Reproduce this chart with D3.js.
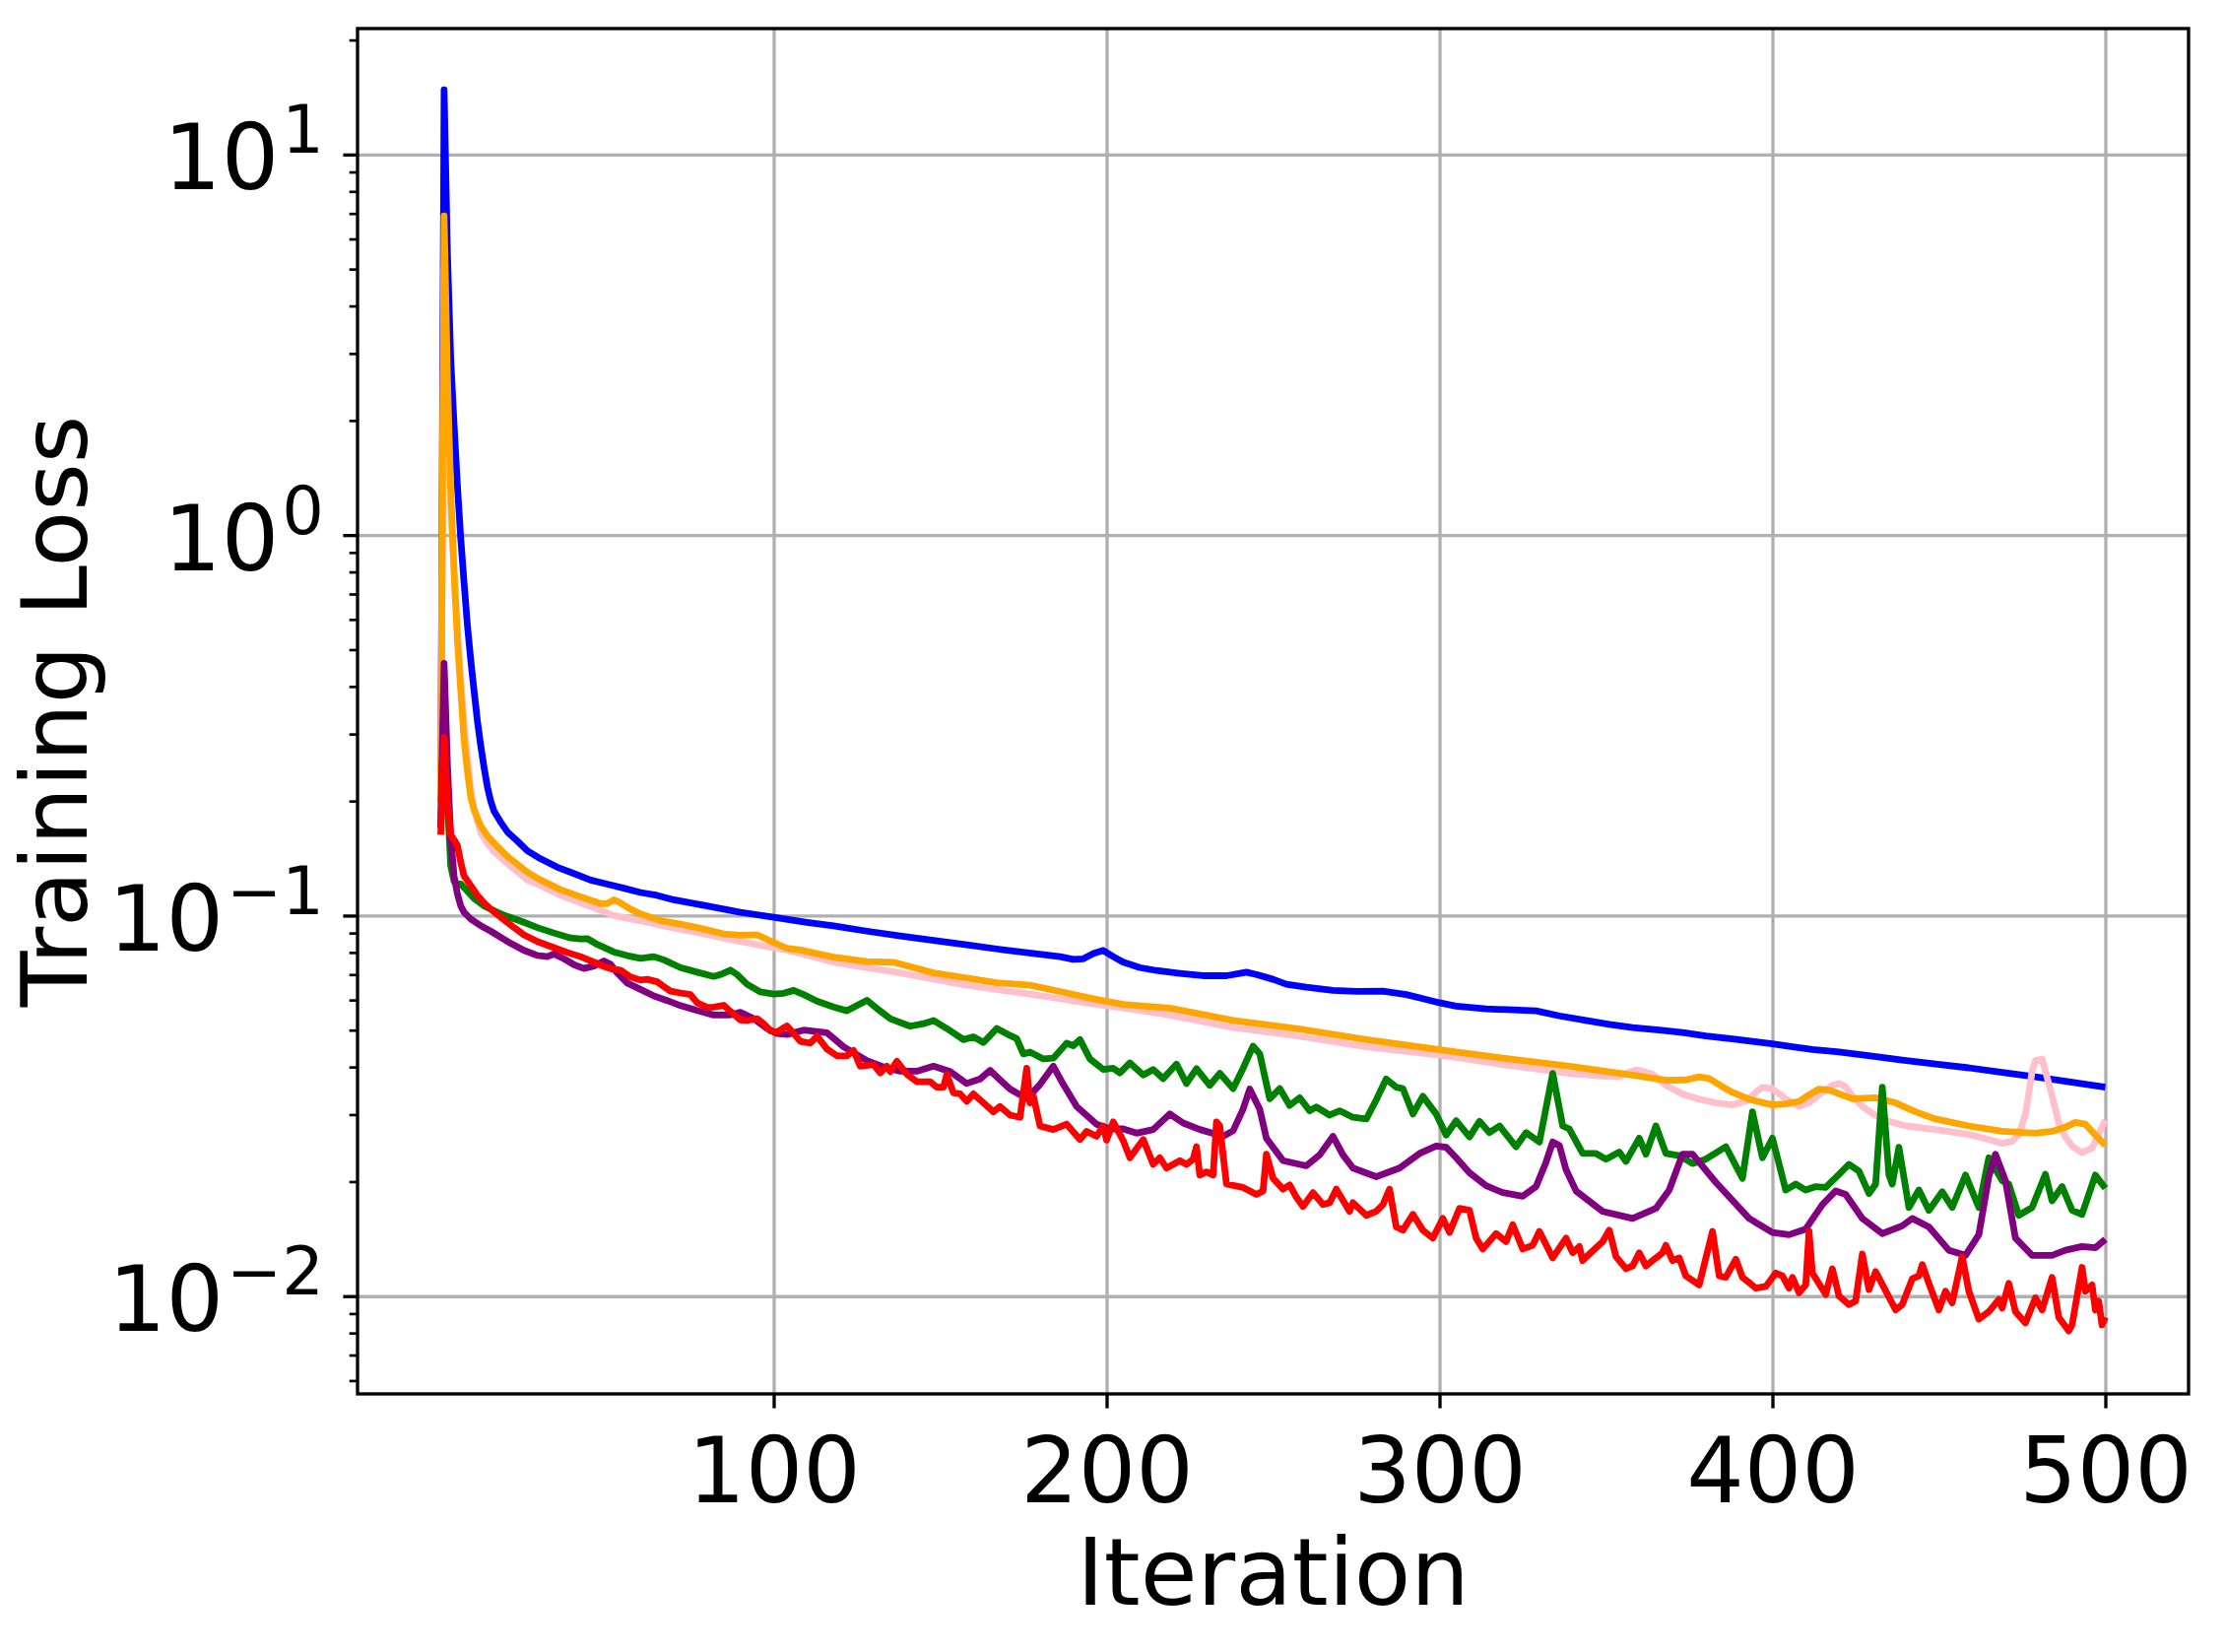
<!DOCTYPE html>
<html><head><meta charset="utf-8">
<script src="https://cdn.jsdelivr.net/npm/d3@7"></script>
<style>html,body{margin:0;padding:0;background:#fff;} text{font-family:"DejaVu Sans",sans-serif;}</style>
</head><body>
<svg id="chart" width="2260" height="1677"></svg>
<script>
// ---- data: [iteration, training loss] ----
const blueSeries = [[0,0.2],[1,14.8],[2,5.5],[3,2.9],[4,1.95],[5,1.35],[6,0.98],[7,0.75],[8,0.58],[9,0.47],[10,0.39],[11,0.325],[12,0.28],[13,0.245],[14,0.218],[15,0.2],[16,0.188],[18,0.176],[20,0.166],[23,0.157],[26,0.148],[30,0.141],[35,0.134],[40,0.129],[45,0.124],[50,0.121],[55,0.118],[60,0.115],[65,0.113],[70,0.11],[80,0.106],[90,0.102],[100,0.099],[110,0.096],[118,0.094],[128,0.091],[138,0.0884],[148,0.086],[158,0.0838],[168,0.0815],[178,0.0795],[186,0.078],[190,0.0767],[193,0.077],[196,0.0795],[199,0.081],[202,0.078],[205,0.0754],[210,0.073],[215,0.0717],[222,0.0705],[229,0.0695],[236,0.0695],[240,0.0705],[242,0.071],[245,0.07],[250,0.068],[254,0.066],[260,0.0648],[268,0.0636],[275,0.0632],[283,0.0633],[290,0.062],[295,0.0605],[300,0.059],[305,0.0578],[314,0.0569],[322,0.0565],[329,0.0562],[336,0.0545],[344,0.053],[351,0.0518],[358,0.0508],[366,0.05],[373,0.0493],[380,0.0483],[388,0.0474],[394,0.0467],[400,0.046],[406,0.0452],[412,0.0445],[420,0.0438],[430,0.0427],[439,0.0417],[449,0.0407],[459,0.0398],[469,0.0387],[479,0.0377],[490,0.0365],[500,0.0354]];
const pinkSeries = [[0,0.2],[1,5.0],[2,2.2],[3,1.2],[4,0.8],[5,0.56],[6,0.42],[7,0.32],[8,0.26],[9,0.215],[10,0.19],[12,0.165],[14,0.155],[16,0.147],[20,0.137],[26,0.124],[30,0.12],[36,0.113],[42,0.108],[47,0.104],[52,0.1],[57,0.098],[62,0.096],[67,0.094],[72,0.092],[77,0.0903],[87,0.0866],[96,0.0835],[104,0.0812],[118,0.0754],[138,0.0707],[158,0.0656],[177,0.0622],[197,0.0584],[205,0.0572],[219,0.0548],[238,0.0508],[258,0.0482],[278,0.0452],[297,0.0433],[305,0.0424],[319,0.0406],[339,0.0385],[350,0.0378],[354,0.0377],[357,0.0388],[359,0.0393],[361,0.039],[364,0.0383],[368,0.0358],[373,0.034],[378,0.0329],[383,0.0322],[388,0.0318],[392,0.0325],[395,0.0343],[397,0.0354],[400,0.0351],[404,0.033],[408,0.0315],[411,0.0322],[415,0.0343],[418,0.0358],[420,0.0362],[422,0.0355],[424,0.0336],[427,0.0315],[430,0.0302],[435,0.0288],[440,0.028],[449,0.0274],[459,0.0266],[465,0.0258],[469,0.0252],[472,0.0255],[474,0.0266],[476,0.03],[478,0.039],[479,0.0416],[481,0.042],[482,0.039],[484,0.0336],[486,0.0285],[488,0.0262],[490,0.0248],[493,0.0238],[496,0.0245],[498,0.0266],[500,0.029]];
const orangeSeries = [[0,0.2],[1,6.9],[2,2.6],[3,1.3],[4,0.8],[5,0.53],[6,0.39],[7,0.29],[8,0.24],[9,0.205],[10,0.19],[12,0.172],[14,0.162],[16,0.155],[20,0.143],[26,0.13],[30,0.124],[36,0.117],[42,0.112],[48,0.1075],[50,0.1075],[52,0.11],[54,0.108],[57,0.104],[60,0.101],[66,0.097],[72,0.095],[77,0.093],[85,0.0895],[90,0.0888],[95,0.089],[98,0.0866],[104,0.082],[108,0.0812],[118,0.0778],[128,0.0757],[136,0.0754],[148,0.0707],[158,0.0685],[167,0.0666],[177,0.0656],[187,0.0629],[197,0.0602],[205,0.0584],[219,0.0571],[238,0.053],[258,0.0503],[278,0.0472],[297,0.0448],[305,0.0438],[319,0.0422],[339,0.0402],[358,0.0381],[368,0.0369],[374,0.037],[378,0.0377],[381,0.0373],[385,0.0355],[388,0.0343],[393,0.0329],[400,0.0318],[404,0.032],[408,0.0325],[411,0.0338],[414,0.035],[417,0.0348],[420,0.034],[424,0.033],[431,0.0332],[437,0.0322],[443,0.0305],[449,0.0292],[459,0.028],[469,0.0271],[479,0.0268],[484,0.0271],[488,0.0278],[491,0.0286],[494,0.0283],[497,0.0265],[500,0.0249]];
const greenSeries = [[0,0.17],[1,0.375],[2,0.2],[3,0.135],[4,0.123],[5,0.121],[6,0.121],[8,0.116],[10,0.111],[13,0.106],[17,0.102],[20,0.0995],[25,0.096],[29,0.093],[34,0.09],[39,0.0873],[42,0.0868],[44,0.087],[47,0.084],[52,0.0802],[56,0.0785],[60,0.0772],[64,0.078],[67,0.0765],[72,0.073],[77,0.071],[82,0.0692],[84,0.07],[87,0.0719],[89,0.07],[92,0.066],[96,0.063],[100,0.0622],[103,0.0625],[106,0.0636],[109,0.062],[113,0.0596],[118,0.0575],[122,0.0562],[125,0.058],[128,0.0599],[131,0.057],[135,0.0536],[141,0.0512],[145,0.052],[148,0.053],[152,0.0505],[157,0.0472],[160,0.048],[163,0.0464],[167,0.0505],[171,0.0484],[173,0.0475],[175,0.0433],[177,0.0438],[181,0.042],[184,0.0422],[188,0.0462],[190,0.0455],[192,0.0472],[195,0.042],[199,0.0394],[202,0.0397],[204,0.0386],[207,0.041],[211,0.0381],[214,0.0394],[217,0.0373],[221,0.0407],[224,0.0362],[227,0.0396],[231,0.0358],[234,0.0385],[238,0.0351],[241,0.0397],[244,0.0454],[246,0.0433],[249,0.033],[252,0.0351],[255,0.0317],[258,0.0332],[261,0.0307],[263,0.0314],[267,0.0299],[270,0.0307],[274,0.0295],[278,0.0292],[281,0.0328],[284,0.0372],[287,0.0354],[289,0.0351],[292,0.0301],[295,0.0335],[299,0.0301],[302,0.0265],[305,0.0289],[309,0.0262],[312,0.0288],[315,0.0269],[318,0.028],[323,0.0247],[326,0.0269],[330,0.0254],[334,0.0385],[337,0.028],[339,0.0275],[343,0.0237],[347,0.0237],[350,0.0229],[354,0.0239],[356,0.0226],[360,0.026],[362,0.0236],[365,0.028],[368,0.0237],[372,0.0234],[376,0.0223],[380,0.0229],[386,0.0247],[391,0.0204],[394,0.0305],[397,0.0231],[400,0.026],[404,0.019],[407,0.0197],[410,0.019],[413,0.0194],[416,0.0193],[420,0.0209],[423,0.0222],[426,0.0213],[429,0.0186],[431,0.0197],[433,0.0354],[435,0.0208],[436,0.0197],[438,0.0246],[441,0.0171],[444,0.019],[447,0.0168],[451,0.0188],[454,0.0171],[458,0.0208],[462,0.0171],[465,0.0231],[469,0.0201],[471,0.0197],[474,0.0163],[478,0.0171],[482,0.0209],[484,0.0178],[487,0.0194],[490,0.0168],[493,0.0164],[497,0.0208],[500,0.0192]];
const purpleSeries = [[0,0.17],[1,0.46],[2,0.25],[3,0.16],[4,0.127],[5,0.114],[6,0.106],[7,0.102],[9,0.098],[12,0.094],[15,0.091],[20,0.0855],[25,0.081],[29,0.0786],[32,0.078],[34,0.0793],[37,0.077],[40,0.0743],[43,0.0726],[46,0.0737],[49,0.076],[51,0.0745],[53,0.0707],[56,0.0665],[60,0.064],[64,0.0615],[68,0.0598],[72,0.058],[77,0.0563],[82,0.0548],[87,0.0548],[90,0.0557],[94,0.0536],[98,0.0505],[101,0.049],[104,0.0487],[109,0.05],[116,0.0492],[121,0.0452],[128,0.0416],[133,0.04],[138,0.039],[143,0.039],[148,0.0402],[153,0.0389],[158,0.0362],[162,0.0372],[165,0.0392],[168,0.037],[171,0.035],[176,0.033],[180,0.036],[184,0.0402],[187,0.036],[191,0.0315],[197,0.0283],[201,0.0275],[205,0.0275],[209,0.0268],[214,0.0274],[219,0.0301],[223,0.0285],[228,0.0274],[235,0.0263],[238,0.0272],[241,0.031],[243,0.035],[246,0.031],[248,0.026],[253,0.0227],[260,0.022],[264,0.0235],[268,0.0263],[271,0.0235],[274,0.0217],[281,0.0206],[288,0.0217],[294,0.0237],[299,0.0248],[302,0.0246],[305,0.0231],[309,0.0211],[314,0.0195],[319,0.0187],[325,0.0183],[329,0.0194],[332,0.0225],[334,0.0254],[336,0.0249],[338,0.0215],[341,0.0189],[349,0.0167],[358,0.016],[365,0.017],[369,0.019],[373,0.0236],[376,0.0236],[383,0.0199],[393,0.016],[400,0.0147],[405,0.0145],[410,0.015],[415,0.0174],[419,0.0189],[422,0.0185],[427,0.016],[433,0.0146],[439,0.0153],[442,0.016],[447,0.0152],[453,0.0132],[458,0.0128],[462,0.0145],[465,0.0206],[467,0.0236],[470,0.0201],[473,0.0142],[478,0.0128],[484,0.0128],[488,0.0132],[493,0.0135],[497,0.0134],[500,0.0141]];
const redSeries = [[0,0.163],[1,0.294],[2,0.2],[3,0.163],[4,0.158],[5,0.153],[6,0.138],[7,0.127],[9,0.12],[11,0.113],[13,0.108],[15,0.104],[18,0.099],[22,0.093],[25,0.089],[29,0.0855],[33,0.083],[38,0.08],[42,0.078],[46,0.0755],[49,0.0735],[51,0.0725],[54,0.0719],[57,0.069],[60,0.0677],[62,0.068],[65,0.067],[67,0.0651],[69,0.0633],[72,0.0626],[75,0.062],[77,0.059],[80,0.0574],[82,0.0575],[85,0.0581],[87,0.056],[90,0.0532],[92,0.053],[95,0.0536],[97,0.052],[99,0.0498],[101,0.0494],[104,0.0513],[106,0.049],[108,0.0467],[111,0.0462],[113,0.0482],[116,0.0446],[119,0.0428],[122,0.0428],[124,0.0442],[126,0.0402],[130,0.0406],[132,0.0386],[134,0.0402],[135,0.0389],[137,0.0414],[140,0.0383],[143,0.0366],[147,0.0366],[149,0.0354],[151,0.0354],[152,0.0382],[154,0.0342],[156,0.034],[158,0.0325],[160,0.034],[163,0.0322],[166,0.0305],[168,0.0315],[171,0.0299],[174,0.0295],[176,0.0397],[177,0.0322],[178,0.0336],[180,0.028],[184,0.0274],[188,0.0283],[192,0.0258],[194,0.0271],[197,0.0263],[199,0.028],[200,0.0257],[202,0.0287],[205,0.0256],[207,0.0231],[211,0.0258],[214,0.0222],[216,0.0231],[218,0.0217],[222,0.0227],[224,0.0222],[226,0.0229],[227,0.0247],[228,0.0208],[230,0.0212],[232,0.0208],[233,0.0287],[234,0.028],[236,0.0197],[241,0.0193],[245,0.0185],[247,0.0189],[248,0.0236],[250,0.0204],[253,0.0191],[255,0.0196],[257,0.0182],[259,0.0172],[262,0.0187],[265,0.0174],[267,0.0176],[269,0.0191],[273,0.0167],[274,0.0176],[278,0.0163],[281,0.0167],[283,0.0174],[285,0.0191],[287,0.0152],[289,0.0149],[292,0.0164],[295,0.0149],[298,0.0142],[301,0.016],[303,0.0147],[306,0.017],[309,0.0168],[311,0.0142],[313,0.0133],[317,0.0146],[320,0.0139],[322,0.0154],[325,0.0133],[328,0.0136],[330,0.0148],[334,0.0126],[338,0.0142],[340,0.013],[342,0.0135],[343,0.0124],[345,0.0129],[349,0.0139],[351,0.0149],[353,0.0127],[356,0.0118],[358,0.012],[360,0.013],[362,0.012],[364,0.0124],[367,0.013],[368,0.0136],[370,0.0124],[372,0.0126],[374,0.0113],[378,0.0107],[382,0.0148],[384,0.0113],[386,0.0112],[389,0.0125],[391,0.0112],[395,0.0105],[398,0.0106],[401,0.0115],[403,0.0113],[405,0.0105],[406,0.0112],[408,0.0102],[410,0.0107],[411,0.0148],[412,0.0115],[416,0.0101],[418,0.0118],[420,0.01],[423,0.0095],[425,0.0097],[427,0.0129],[429,0.0104],[431,0.0116],[437,0.0092],[439,0.0095],[442,0.0111],[444,0.0113],[445,0.0121],[447,0.0108],[450,0.0092],[452,0.0103],[454,0.0096],[457,0.0127],[459,0.0103],[462,0.0087],[465,0.0091],[468,0.0098],[469,0.0093],[471,0.0108],[473,0.0091],[476,0.0085],[479,0.0099],[481,0.0092],[484,0.0112],[486,0.0088],[489,0.0081],[490,0.0084],[493,0.0119],[494,0.0103],[496,0.0107],[497,0.0092],[498,0.0097],[499,0.0084],[500,0.0088]];

const seriesNames = ["blue","pink","orange","green","purple","red"];
const seriesColors = ["#0000ff","#ffc0cb","#ffa500","#008000","#800080","#ff0000"];
const seriesData = [blueSeries, pinkSeries, orangeSeries, greenSeries, purpleSeries, redSeries];

const xTickValues = [100,200,300,400,500];
const yMajorValues = [0.01,0.1,1,10];
const yMajorExponents = ["\u22122","\u22121","0","1"];
const xLabel = "Iteration";
const yLabel = "Training Loss";

// ---- layout ----
const L = 363, R = 2222, T = 29, B = 1415;
const LW = 3.33, TICK = 14.6, MINOR = 8.3, PAD = 14.6;

const svg = d3.select("#chart");
const x = d3.scaleLinear().domain([-25, 525]).range([L, R]);
const y = d3.scaleLog().domain([Math.pow(10,-2.257), Math.pow(10,1.331)]).range([B, T]);

svg.append("rect").attr("width",2260).attr("height",1677).attr("fill","#fff");

// grid
const gx = svg.append("g").attr("transform",`translate(0,${B})`)
  .call(d3.axisBottom(x).tickValues(xTickValues).tickSize(-(B-T)).tickFormat(""));
const gy = svg.append("g").attr("transform",`translate(${L},0)`)
  .call(d3.axisLeft(y).tickValues(yMajorValues).tickSize(-(R-L)).tickFormat(""));
[gx,gy].forEach(g=>{
  g.select(".domain").remove();
  g.selectAll("line").attr("stroke","#b0b0b0").attr("stroke-width",LW);
});

// lines
svg.append("clipPath").attr("id","clip").append("rect").attr("x",L).attr("y",T).attr("width",R-L).attr("height",B-T);
const line = d3.line().x(d=>x(d[0])).y(d=>y(d[1]));
const plot = svg.append("g").attr("clip-path","url(#clip)");
seriesData.forEach((s,i)=>{
  plot.append("path").datum(s).attr("d",line)
    .attr("fill","none").attr("stroke",seriesColors[i]).attr("stroke-width",6.8)
    .attr("stroke-linejoin","round").attr("stroke-linecap","butt");
});

// axes
const minorVals = [];
for (let d=-3; d<=1; d++) for (let k=2;k<=9;k++){ const v=k*Math.pow(10,d); if (v>y.domain()[0] && v<y.domain()[1]) minorVals.push(v); }

const ax = svg.append("g").attr("transform",`translate(0,${B})`)
  .call(d3.axisBottom(x).tickValues(xTickValues).tickSize(TICK).tickPadding(PAD).tickFormat(d3.format("d")));
ax.select(".domain").remove();
ax.selectAll("line").attr("stroke","#000").attr("stroke-width",LW);
ax.selectAll("text").attr("y",110).attr("dy",null).attr("font-size",92).attr("fill","#000")
  .style("font-family","DejaVu Sans");

const ayMinor = svg.append("g").attr("transform",`translate(${L},0)`)
  .call(d3.axisLeft(y).tickValues(minorVals).tickSize(MINOR).tickFormat(""));
ayMinor.select(".domain").remove();
ayMinor.selectAll("line").attr("stroke","#000").attr("stroke-width",LW*0.8);

const ay = svg.append("g").attr("transform",`translate(${L},0)`)
  .call(d3.axisLeft(y).tickValues(yMajorValues).tickSize(TICK).tickPadding(PAD).tickFormat(""));
ay.select(".domain").remove();
ay.selectAll("line").attr("stroke","#000").attr("stroke-width",LW);
ay.selectAll(".tick").each(function(d,i){
  const t = d3.select(this).select("text");
  t.text(null).attr("x",-(TICK+PAD+5)).attr("y",35).attr("dy",null)
   .attr("text-anchor","end").attr("fill","#000").style("font-family","DejaVu Sans");
  t.append("tspan").attr("font-size",92).text("10");
  t.append("tspan").attr("font-size",67).attr("dx",3).attr("dy",-37).text(yMajorExponents[i]);
});

// spines
svg.append("rect").attr("x",L).attr("y",T).attr("width",R-L).attr("height",B-T)
  .attr("fill","none").attr("stroke","#000").attr("stroke-width",LW);

// labels
svg.append("text").attr("x",(L+R)/2).attr("y",1629).attr("text-anchor","middle")
  .attr("font-size",94).attr("fill","#000").text(xLabel);
svg.append("text").attr("transform",`translate(88,${(T+B)/2}) rotate(-90)`).attr("text-anchor","middle")
  .attr("font-size",93).attr("fill","#000").text(yLabel);
</script>
</body></html>
